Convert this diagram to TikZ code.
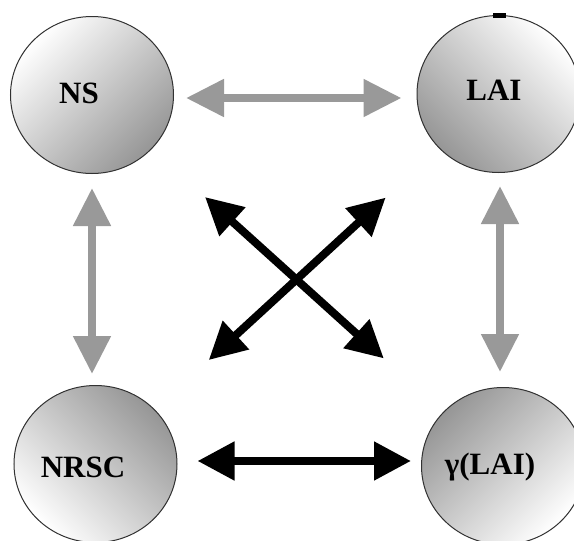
\documentclass[tikz,border=0pt]{standalone}
\usepackage{fontspec}
\setmainfont{Liberation Serif}
\usetikzlibrary{arrows.meta,shapes.geometric,calc}
\definecolor{arrgray}{RGB}{153,153,153}
\definecolor{shdark}{RGB}{150,150,150}
\definecolor{shlight}{RGB}{255,255,255}
\definecolor{rimcol}{RGB}{50,50,50}
\tikzset{
  ball/.style={ellipse, draw=rimcol, line width=1pt, minimum width=163pt, minimum height=157pt, inner sep=0pt},
  lbl/.style={font=\bfseries\fontsize{31}{31}\selectfont, inner sep=0pt},
  grayarr/.style={draw=arrgray, line width=8pt, {Triangle[length=38pt,width=36pt]}-{Triangle[length=38pt,width=36pt]}},
  blackarr/.style={draw=black, line width=8pt, {Triangle[length=37pt,width=37pt]}-{Triangle[length=37pt,width=37pt]}}
}
\begin{document}
\begin{tikzpicture}[x=1pt,y=-1pt]
\fill[white] (0,0) rectangle (574,541);
\useasboundingbox (0,0) rectangle (574,541);
\begin{scope}
\clip (0,0) rectangle (574,541);
\node[ball, top color=shlight, bottom color=shdark, shading angle=45] (ns) at (92,95) {};
\node[ball, top color=shlight, bottom color=shdark, shading angle=-45] (lai) at (498.5,94) {};
\node[ball, top color=shdark, bottom color=shlight, shading angle=-45] (nrsc) at (95.5,464) {};
\node[ball, top color=shdark, bottom color=shlight, shading angle=45] (gam) at (503,466) {};
\end{scope}
\fill[black] (493,13) rectangle (506,17.5);
\node[lbl] (nsT) at (79,93) {NS};
\node[lbl] (laiT) at (494,90) {LAI};
\node[lbl] (nrscT) at (83,467) {NRSC};
\node[lbl] (gamT) at (490,467) {γ(LAI)};
% gray arrows
\draw[grayarr, shorten <=12pt, shorten >=15pt] ([yshift=-3pt]ns.east) -- ([yshift=-3pt]ns.east -| lai.west);
\draw[grayarr, shorten <=14pt, shorten >=11pt] (ns.south) -- (ns.south |- nrsc.north);
\draw[grayarr, shorten <=13pt, shorten >=15pt] ([xshift=1.5pt]lai.south) -- ([xshift=1.5pt]lai.south |- gam.north);
% black arrows
\draw[blackarr, shorten <=20pt, shorten >=10pt] ([yshift=3pt]nrsc.east) -- ([yshift=3pt]nrsc.east -| gam.west);
\draw[blackarr] ($(ns)!0.275!(gam)$) -- ($(ns)!0.71!(gam)$);
\draw[blackarr] ($(lai)!0.28!(nrsc)$) -- ($(lai)!0.719!(nrsc)$);
\end{tikzpicture}
\end{document}
